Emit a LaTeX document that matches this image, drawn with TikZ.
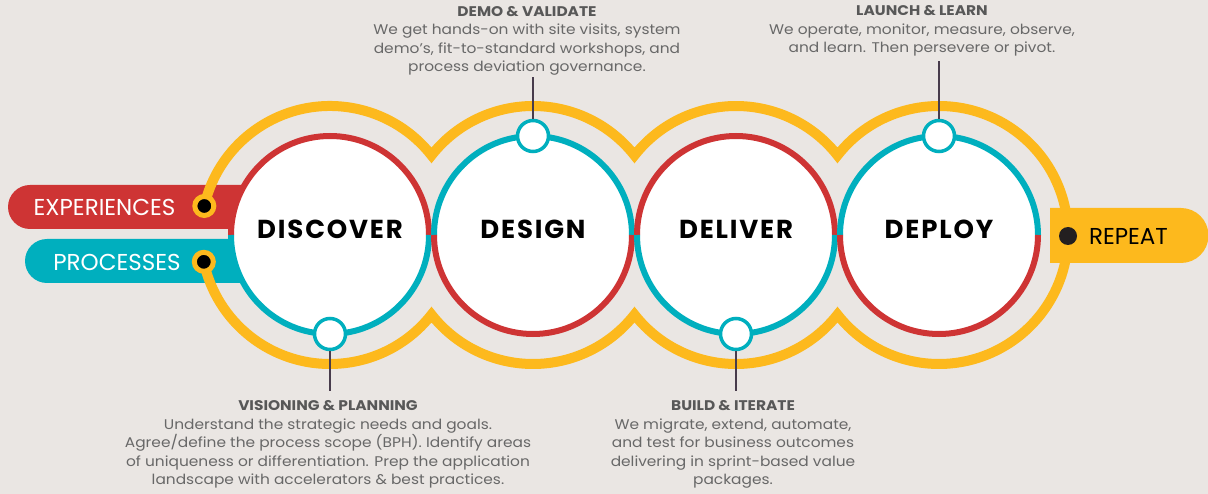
\documentclass[tikz,border=0pt]{standalone}
\usepackage{fontspec}
\setmainfont{Poppins}
\newfontfamily\stagefont[LetterSpace=7]{Poppins}
\newfontfamily\notefont[FakeStretch=1.1]{Poppins}
\usetikzlibrary{calc, positioning}

\definecolor{bgc}{RGB}{234,230,227}
\definecolor{redc}{RGB}{206,52,52}
\definecolor{tealc}{RGB}{0,175,190}
\definecolor{yelc}{RGB}{253,185,29}
\definecolor{leadc}{RGB}{72,60,76}
\definecolor{headc}{RGB}{88,88,88}
\definecolor{bodyc}{RGB}{104,104,104}
\definecolor{dotc}{RGB}{35,31,32}

\begin{document}
\begin{tikzpicture}[x=1pt, y=1pt,
    stage/.style={circle, fill=white, minimum size=198pt, inner sep=0pt, outer sep=0pt,
        text depth=12pt, font=\stagefont\bfseries\fontsize{26}{26}\selectfont},
    knob/.style={circle, draw=tealc, line width=3.5pt, fill=white, minimum size=31pt,
        inner sep=0pt, outer sep=0pt},
    ringdot/.style={circle, fill=black, draw=yelc, line width=5pt, minimum size=19pt, inner sep=0pt},
    band/.style={text=white, inner sep=0pt, font=\fontsize{23}{23}\selectfont},
    note/.style={align=center, text=bodyc, inner sep=2pt, font=\notefont\fontsize{14}{18.5}\selectfont},
    lead/.style={draw=leadc, line width=1.6pt, shorten <=1.5pt},
    ring/.style={draw=yelc, line width=10pt}]
    % 定義
    \def\Rs{99}   % 円の半径
    \def\Ry{129}  % 黄色い輪の半径
    \def\D{203}   % 円の間隔
    \pgfmathsetmacro{\ang}{acos(\D/2/\Ry)}

    % 背景
    \useasboundingbox (0,0) rectangle (1208,-494);
    \fill[bgc] (0,0) rectangle (1208,-494);

    % 円の中心
    \coordinate (c1) at (330,-235);
    \coordinate (c2) at ($(c1)+(\D,0)$);
    \coordinate (c3) at ($(c2)+(\D,0)$);
    \coordinate (c4) at ($(c3)+(\D,0)$);

    % 左右の帯
    \fill[redc] (300,-185) -- (30,-185) arc (90:270:22) -- (300,-229) -- cycle;
    \fill[tealc] (300,-239) -- (47,-239) arc (90:270:22) -- (300,-283) -- cycle;
    \fill[yelc] (1050,-208) -- (1181,-208) arc (90:-90:27.5) -- (1050,-263) -- cycle;

    % 黄色い輪 (波形)
    \draw[ring] ($(c1)+(167:\Ry)$) arc (167:\ang:\Ry)
        arc (180-\ang:\ang:\Ry) arc (180-\ang:\ang:\Ry)
        arc (180-\ang:-180+\ang:\Ry)
        arc (-\ang:-180+\ang:\Ry) arc (-\ang:-180+\ang:\Ry)
        arc (-\ang:-168:\Ry);

    % 4つの段階
    \node[stage] (discover) at (c1) {DISCOVER};
    \draw[redc, line width=6pt] (discover.west) arc (180:0:\Rs);
    \draw[tealc, line width=6pt] (discover.west) arc (180:360:\Rs);
    \node[stage] (design) at (c2) {DESIGN};
    \draw[tealc, line width=6pt] (design.west) arc (180:0:\Rs);
    \draw[redc, line width=6pt] (design.west) arc (180:360:\Rs);
    \node[stage] (deliver) at (c3) {DELIVER};
    \draw[redc, line width=6pt] (deliver.west) arc (180:0:\Rs);
    \draw[tealc, line width=6pt] (deliver.west) arc (180:360:\Rs);
    \node[stage] (deploy) at (c4) {DEPLOY};
    \draw[tealc, line width=6pt] (deploy.west) arc (180:0:\Rs);
    \draw[redc, line width=6pt] (deploy.west) arc (180:360:\Rs);

    % 小さな円
    \node[knob] (k1) at (discover.south) {};
    \node[knob] (k2) at (design.north) {};
    \node[knob] (k3) at (deliver.south) {};
    \node[knob] (k4) at (deploy.north) {};

    % 説明文
    \node[note, below=49pt of k1, xshift=-2pt] (vision) {{\bfseries\color{headc}VISIONING \& PLANNING}\\
        Understand the strategic needs and goals.\\
        Agree/define the process scope (BPH). Identify areas\\
        of uniqueness or differentiation. Prep the application\\
        landscape with accelerators \& best practices.};
    \node[note, above=43pt of k2, xshift=-6pt] (demo) {{\bfseries\color{headc}DEMO \& VALIDATE}\\
        We get hands-on with site visits, system\\
        demo’s, fit-to-standard workshops, and\\
        process deviation governance.};
    \node[note, below=49pt of k3, xshift=-3pt] (build) {{\bfseries\color{headc}BUILD \& ITERATE}\\
        We migrate, extend, automate,\\
        and test for business outcomes\\
        delivering in sprint-based value\\
        packages.};
    \node[note, above=62pt of k4, xshift=-17pt] (launch) {{\bfseries\color{headc}LAUNCH \& LEARN}\\
        We operate, monitor, measure, observe,\\
        and learn. Then persevere or pivot.};

    % 引き出し線
    \draw[lead, shorten >=8pt] (k1.south) -- (k1 |- vision.north);
    \draw[lead] (k2.north) -- (k2 |- demo.south);
    \draw[lead, shorten >=8pt] (k3.south) -- (k3 |- build.north);
    \draw[lead, shorten >=3pt] (k4.north) -- (k4 |- launch.south);

    % 帯の点と文字
    \node[ringdot] (expdot) at ($(c1)+(167:\Ry)$) {};
    \node[ringdot] (procdot) at ($(c1)+(-168:\Ry)$) {};
    \node[circle, fill=dotc, minimum size=18pt, inner sep=0pt] (repdot) at (1068,-236) {};
    \node[band] (exp) at (104.5,-207) {EXPERIENCES};
    \node[band] (proc) at (117,-262) {PROCESSES};
    \node[band, text=black] (rep) at (1128.5,-236) {REPEAT};
\end{tikzpicture}
\end{document}
